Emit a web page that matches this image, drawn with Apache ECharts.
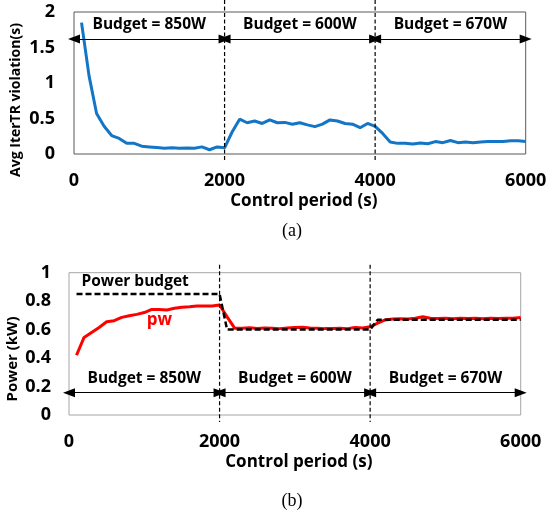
<!DOCTYPE html>
<html>
<head>
<meta charset="utf-8">
<script src="https://cdn.jsdelivr.net/npm/echarts@6/dist/echarts.min.js"></script>
<style>
html,body{margin:0;padding:0;background:#fff;}
#c{width:548px;height:513px;}
</style>
</head>
<body>
<div id="c"></div>
<script>
// ---- data ----
const times = [100,200,300,400,500,600,700,800,900,1000,1100,1200,1300,1400,1500,1600,1700,1800,1900,2000,
  2100,2200,2300,2400,2500,2600,2700,2800,2900,3000,3100,3200,3300,3400,3500,3600,3700,3800,3900,4000,
  4100,4200,4300,4400,4500,4600,4700,4800,4900,5000,5100,5200,5300,5400,5500,5600,5700,5800,5900,6000];

const iterTRViolation = [1.85,1.10,0.57,0.39,0.26,0.22,0.15,0.15,0.11,0.10,0.09,0.08,0.087,0.08,0.085,0.08,0.10,0.06,0.10,0.087,
  0.31,0.49,0.44,0.465,0.43,0.48,0.44,0.445,0.42,0.44,0.41,0.385,0.42,0.48,0.465,0.43,0.42,0.37,0.43,0.39,
  0.29,0.17,0.15,0.15,0.14,0.155,0.145,0.175,0.16,0.19,0.16,0.17,0.16,0.17,0.175,0.175,0.175,0.185,0.185,0.175];

const powerPw = [0.42,0.545,0.58,0.615,0.655,0.663,0.686,0.698,0.707,0.72,0.742,0.742,0.738,0.75,0.757,0.761,0.766,0.766,0.766,0.773,
  0.69,0.61,0.61,0.613,0.608,0.612,0.61,0.607,0.612,0.615,0.617,0.612,0.61,0.607,0.608,0.61,0.607,0.615,0.612,0.62,
  0.645,0.668,0.675,0.676,0.675,0.68,0.69,0.68,0.678,0.68,0.677,0.68,0.678,0.68,0.677,0.68,0.678,0.68,0.68,0.685];

const powerBudget = [0.85,0.85,0.85,0.85,0.85,0.85,0.85,0.85,0.85,0.85,0.85,0.85,0.85,0.85,0.85,0.85,0.85,0.85,0.85,0.85,
  0.6,0.6,0.6,0.6,0.6,0.6,0.6,0.6,0.6,0.6,0.6,0.6,0.6,0.6,0.6,0.6,0.6,0.6,0.6,0.6,
  0.67,0.67,0.67,0.67,0.67,0.67,0.67,0.67,0.67,0.67,0.67,0.67,0.67,0.67,0.67,0.67,0.67,0.67,0.67,0.67];

const phaseBounds = [0, 2000, 4000, 6000];
const phaseLabels = ['Budget = 850W', 'Budget = 600W', 'Budget = 670W'];
const budgetSwitches = [2000, 4000];
const xTicks = {min: 0, max: 6000, interval: 2000};
const yTicksA = {min: 0, max: 2, interval: 0.5};
const yTicksB = {min: 0, max: 1, interval: 0.2};
const arrowLevelA = 1.62;
const arrowLevelB = 0.157;

// ---- build ----
const FONT = 'Open Sans';
const pairs = (vals) => times.map((t, i) => [t, vals[i]]);

function arrowLines(level) {
  const out = [];
  for (let i = 0; i < phaseLabels.length; i++) {
    out.push([
      {coord: [phaseBounds[i], level], label: {formatter: phaseLabels[i]}},
      {coord: [phaseBounds[i + 1], level]}
    ]);
  }
  return out;
}
const arrowMarkLine = (level) => ({
  silent: true,
  symbol: ['triangle', 'triangle'],
  symbolSize: [9, 12],
  lineStyle: {color: '#000', width: 1.2, type: 'solid'},
  itemStyle: {color: '#000'},
  label: {show: true, position: 'middle', color: '#000', fontFamily: FONT, fontWeight: 'bold', fontSize: 15.5, distance: 6},
  emphasis: {disabled: true},
  animation: false,
  data: arrowLines(level)
});

const axisLabelStyle = {color: '#000', fontFamily: FONT, fontWeight: 'bold', fontSize: 18};

const option = {
  animation: false,
  backgroundColor: '#fff',
  title: [
    {text: '(a)', left: 287, top: 217, textAlign: 'center',
     textStyle: {fontFamily: 'Liberation Serif', fontWeight: 'normal', fontSize: 18, color: '#000'}},
    {text: '(b)', left: 287, top: 487, textAlign: 'center',
     textStyle: {fontFamily: 'Liberation Serif', fontWeight: 'normal', fontSize: 18, color: '#000'}}
  ],
  grid: [
    {left: 74, right: 22.3, top: 12, height: 142, show: true, borderColor: '#595959', borderWidth: 1,
     backgroundColor: 'transparent', containLabel: false, outerBoundsMode: 'none'},
    {left: 69, right: 27.3, top: 272.7, height: 142.3, show: true, borderColor: '#a6a6a6', borderWidth: 1,
     backgroundColor: 'transparent', containLabel: false, outerBoundsMode: 'none'}
  ],
  xAxis: [0, 1].map(g => ({
    type: 'value', gridIndex: g, min: xTicks.min, max: xTicks.max, interval: xTicks.interval,
    axisLine: {show: false}, axisTick: {show: false}, splitLine: {show: false},
    axisLabel: Object.assign({margin: 18, formatter: v => String(v)}, axisLabelStyle),
    name: 'Control period (s)', nameLocation: 'middle', nameGap: 39, nameMoveOverlap: false,
    nameTextStyle: {color: '#000', fontFamily: FONT, fontWeight: 'bold', fontSize: 17, padding: [0, 0, 0, 8]}
  })),
  yAxis: [
    {type: 'value', gridIndex: 0, min: yTicksA.min, max: yTicksA.max, interval: yTicksA.interval,
     axisLine: {show: false}, axisTick: {show: false}, splitLine: {show: false},
     axisLabel: Object.assign({margin: 19}, axisLabelStyle),
     name: 'Avg IterTR violation(s)', nameLocation: 'middle', nameGap: 51, nameMoveOverlap: false,
     nameTextStyle: {color: '#000', fontFamily: FONT, fontWeight: 'bold', fontSize: 14, padding: [0, 34, 0, 0]}},
    {type: 'value', gridIndex: 1, min: yTicksB.min, max: yTicksB.max, interval: yTicksB.interval,
     axisLine: {show: false}, axisTick: {show: false}, splitLine: {show: false},
     axisLabel: Object.assign({margin: 18}, axisLabelStyle),
     name: 'Power (kW)', nameLocation: 'middle', nameGap: 49, nameMoveOverlap: false,
     nameTextStyle: {color: '#000', fontFamily: FONT, fontWeight: 'bold', fontSize: 15, padding: [0, 30, 0, 0]}}
  ],
  series: [
    {type: 'line', xAxisIndex: 0, yAxisIndex: 0, data: pairs(iterTRViolation),
     showSymbol: false, lineStyle: {color: '#1275c6', width: 3}, z: 3,
     markLine: arrowMarkLine(arrowLevelA)},
    {type: 'line', xAxisIndex: 1, yAxisIndex: 1, data: pairs(powerBudget),
     showSymbol: false, lineStyle: {color: '#000', width: 2.5, type: [6, 3]}, z: 4,
     markLine: arrowMarkLine(arrowLevelB),
     markPoint: {silent: true, symbol: 'circle', symbolSize: 0, animation: false,
       label: {show: true, position: 'right', offset: [0, 0], formatter: 'Power budget', color: '#000', fontFamily: FONT, fontWeight: 'bold', fontSize: 15.5},
       data: [{coord: [100, 0.937]}]}},
    {type: 'line', xAxisIndex: 1, yAxisIndex: 1, data: pairs(powerPw),
     showSymbol: false, lineStyle: {color: '#ff0000', width: 3}, z: 3,
     markPoint: {silent: true, symbol: 'circle', symbolSize: 0, animation: false,
       label: {show: true, position: 'inside', formatter: 'pw', color: '#ff0000', fontFamily: FONT, fontWeight: 'bold', fontSize: 17},
       data: [{coord: [1200, 0.668]}]}}
  ]
};

const chart = echarts.init(document.getElementById('c'), null, {renderer: 'canvas'});
chart.setOption(option);

// vertical dashed budget-switch lines, positioned through the axes' scales
const graphics = [];
[[0, yTicksA, 12, 8], [1, yTicksB, 8, 7]].forEach(([g, yt, extTop, extBot]) => {
  budgetSwitches.forEach(t => {
    const top = chart.convertToPixel({gridIndex: g}, [t, yt.max]);
    const bot = chart.convertToPixel({gridIndex: g}, [t, yt.min]);
    graphics.push({type: 'line', silent: true, z: 10,
      shape: {x1: top[0], y1: top[1] - extTop, x2: bot[0], y2: bot[1] + extBot},
      style: {stroke: '#000', lineWidth: 1.2, lineDash: [4, 2.5]}});
  });
});
chart.setOption({graphic: graphics});
</script>
</body>
</html>
